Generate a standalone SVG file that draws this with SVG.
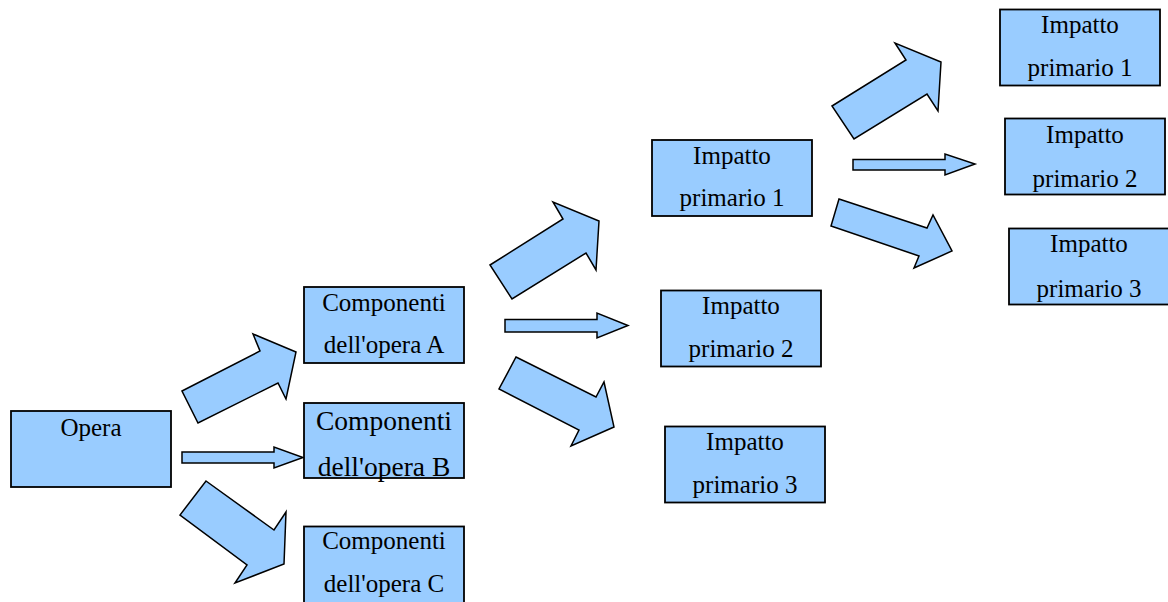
<svg xmlns="http://www.w3.org/2000/svg" width="1168" height="602" viewBox="0 0 1168 602">
  <style>
    .box { fill: #99ccff; stroke: #000; stroke-width: 1.8; }
    .arrow { fill: #99ccff; stroke: #000; stroke-width: 1.5; stroke-linejoin: miter; }
    text { font-family: "Liberation Serif", "Times New Roman", serif; font-size: 25px; fill: #000; text-anchor: middle; }
    .big { font-size: 27.5px; }
  </style>
  <rect width="1168" height="602" fill="#fff"/>

  <!-- block arrows between the stages -->
  <g id="connectors">
    <polygon class="arrow" points="182,391 260,351 253,334 296,352 286,399 278,383 198,423"/>
    <polygon class="arrow" points="182,452 274,452 274,447 303,457.5 274,468 274,463 182,463"/>
    <polygon class="arrow" points="206,481 274,530 286,512 284,564 235,583 247,565 180,515"/>

    <polygon class="arrow" points="490,265 563,219 553,202 599,221 596,270 586,253 512,299"/>
    <polygon class="arrow" points="505,319.5 597,319.5 597,313 628,325.5 597,338 597,332 505,332"/>
    <polygon class="arrow" points="516,357 596,397 604,382 614,427 571,446 579,430 499,389"/>

    <polygon class="arrow" points="832,106 906,60 895,43 941,62 938,111 927,94 854,139"/>
    <polygon class="arrow" points="853,159.5 945,159.5 945,154 975,164 945,175 945,170 853,170"/>
    <polygon class="arrow" points="839,199 927,228 933,215 952,251 914,268 919,256 831,226"/>
  </g>

  <g id="opera">
    <rect class="box" x="11" y="411" width="160" height="76"/>
    <text x="91" y="436">Opera</text>
  </g>

  <g id="componenti-a">
    <rect class="box" x="304" y="287" width="160" height="76"/>
    <text x="384" y="311">Componenti</text>
    <text x="384" y="353">dell'opera A</text>
  </g>
  <g id="componenti-b">
    <rect class="box" x="304" y="403" width="160" height="75"/>
    <text class="big" x="384" y="430">Componenti</text>
    <text class="big" x="384" y="476">dell'opera B</text>
  </g>
  <g id="componenti-c">
    <rect class="box" x="304" y="526.5" width="160" height="80"/>
    <text x="384" y="549">Componenti</text>
    <text x="384" y="592">dell'opera C</text>
  </g>

  <g id="impatto-1">
    <rect class="box" x="652" y="140" width="160" height="76"/>
    <text x="732" y="164">Impatto</text>
    <text x="732" y="206">primario 1</text>
  </g>
  <g id="impatto-2">
    <rect class="box" x="661" y="290.5" width="160" height="76"/>
    <text x="741" y="314">Impatto</text>
    <text x="741" y="357">primario 2</text>
  </g>
  <g id="impatto-3">
    <rect class="box" x="665" y="426.5" width="160" height="76"/>
    <text x="745" y="450">Impatto</text>
    <text x="745" y="493">primario 3</text>
  </g>

  <g id="impatto-1b">
    <rect class="box" x="1000" y="9.5" width="160" height="76"/>
    <text x="1080" y="33">Impatto</text>
    <text x="1080" y="76">primario 1</text>
  </g>
  <g id="impatto-2b">
    <rect class="box" x="1005" y="118.5" width="160" height="76"/>
    <text x="1085" y="143">Impatto</text>
    <text x="1085" y="187">primario 2</text>
  </g>
  <g id="impatto-3b">
    <rect class="box" x="1009" y="228.5" width="160" height="76"/>
    <text x="1089" y="252">Impatto</text>
    <text x="1089" y="297">primario 3</text>
  </g>
</svg>
